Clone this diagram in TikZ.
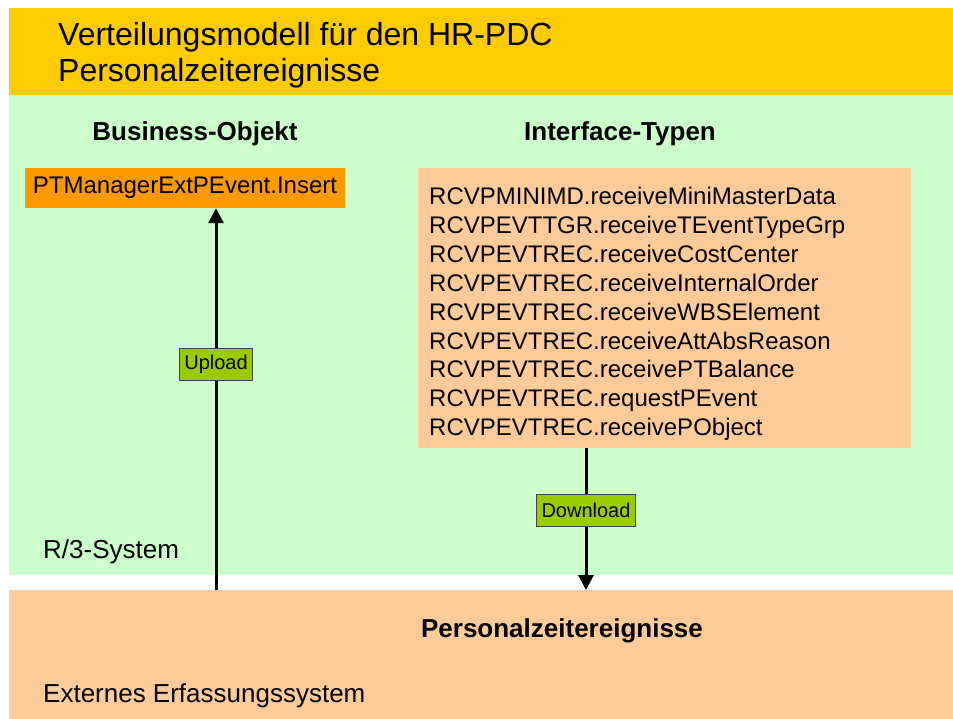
\documentclass[tikz,border=0pt]{standalone}
\usepackage{fontspec}
\setmainfont{Liberation Sans}
\newcommand{\fs}[2]{\fontsize{#1}{#2}\selectfont}
\usepackage{xcolor}
\definecolor{band}{HTML}{FFCC00}
\definecolor{rthree}{HTML}{CCFFCC}
\definecolor{extsys}{HTML}{FFCC99}
\definecolor{bobox}{HTML}{FF9900}
\definecolor{flow}{HTML}{99CC00}
\usepackage{tikz}
\usetikzlibrary{arrows.meta}

\tikzset{
  area/.style={anchor=north west, inner sep=0pt, minimum width=944pt},
  head/.style={font=\fs{26}{31}\bfseries, anchor=base},
  plain/.style={font=\fs{26}{31}, anchor=base west, inner sep=0pt},
  lbl/.style={draw=black!75, line width=0.8pt, fill=flow, font=\fs{20}{24},
    inner xsep=5pt, inner ysep=0pt, minimum height=32pt},
  flowline/.style={line width=3pt, -{Triangle[width=15pt,length=15pt]}},
}

\begin{document}
\begin{tikzpicture}[x=1pt,y=-1pt]
  \useasboundingbox (0,0) rectangle (953,719);

  % bands
  \node[area, fill=band, minimum height=87pt] (top) at (9,8) {};
  \node[area, fill=rthree, minimum height=480pt] (r3) at (9,95) {};
  \node[area, fill=extsys, minimum height=129pt] (ext) at (9,590) {};

  \node[plain, font=\fs{32}{36}] (t1) at (58,46) {Verteilungsmodell für den HR-PDC};
  \node[plain, font=\fs{32}{36}] (t2) at (58,82) {Personalzeitereignisse};

  \node[head] (bohead) at (195,141) {Business-Objekt};
  \node[head] (ifhead) at (620,141) {Interface-Typen};

  \node[fill=bobox, minimum width=320pt, minimum height=40pt, inner sep=0pt,
    font=\fs{24}{29}] (bo) at (185,188) {PTManagerExtPEvent.Insert};

  \node[fill=extsys, anchor=north west, minimum width=493pt, minimum height=280pt,
    inner sep=0pt] (itf) at (418,168) {};
  \node[anchor=north west, align=left, inner sep=0pt, font=\fs{24}{28.9}] (ops) at (429,187)
    {RCVPMINIMD.receiveMiniMasterData\\
     RCVPEVTTGR.receiveTEventTypeGrp\\
     RCVPEVTREC.receiveCostCenter\\
     RCVPEVTREC.receiveInternalOrder\\
     RCVPEVTREC.receiveWBSElement\\
     RCVPEVTREC.receiveAttAbsReason\\
     RCVPEVTREC.receivePTBalance\\
     RCVPEVTREC.requestPEvent\\
     RCVPEVTREC.receivePObject};

  % up / down
  \coordinate (upx) at (216,0);
  \coordinate (dnx) at (586,0);
  \draw[flowline] (ext.north -| upx) -- (bo.south -| upx) node[lbl, pos=0.59] (up) {Upload};
  \draw[flowline] (itf.south -| dnx) -- (ext.north -| dnx) node[lbl, pos=0.44] (down) {Download};

  \node[plain] (r3name) at (43,558) {R/3-System};
  \node[head] (pzhead) at (562,637) {Personalzeitereignisse};
  \node[plain] (extname) at (43,702) {Externes Erfassungssystem};
\end{tikzpicture}
\end{document}
